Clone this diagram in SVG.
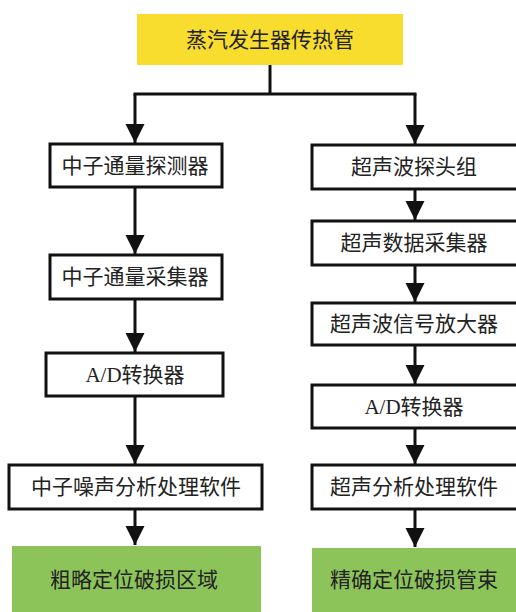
<svg xmlns="http://www.w3.org/2000/svg" width="516" height="612" viewBox="0 0 516 612">
<style>
text{font-family:"Liberation Serif","Noto Sans CJK SC",serif;font-size:21px;fill:#222;text-anchor:middle;dominant-baseline:central}
.box{fill:#fff;stroke:#111;stroke-width:3}
.yellow{fill:#F9DD2E}
.green{fill:#8CC45A}
.conn{fill:none;stroke:#111;stroke-width:3}
</style>
<defs>
<marker id="ah" markerUnits="userSpaceOnUse" viewBox="0 -10 20 20" refX="19" refY="0" markerWidth="20" markerHeight="20" orient="auto">
<path d="M0,-9.5 L19,0 L0,9.5 z" fill="#111"/>
</marker>
</defs>
<rect width="516" height="612" fill="#fff"/>
<g id="top"><rect class="yellow" x="137" y="14" width="266" height="51"/><text x="270" y="40">蒸汽发生器传热管</text></g>

<g id="L1"><rect class="box" x="50" y="144" width="172" height="43"/><text x="135" y="166">中子通量探测器</text></g>
<g id="L2"><rect class="box" x="50" y="255" width="172" height="44"/><text x="135" y="277">中子通量采集器</text></g>
<g id="L3"><rect class="box" x="46" y="353" width="177" height="43"/><text x="135" y="375">A/D转换器</text></g>
<g id="L4"><rect class="box" x="9" y="465" width="253" height="44"/><text x="136" y="487">中子噪声分析处理软件</text></g>
<g id="L5"><rect class="green" x="12" y="546" width="249" height="70"/><text x="134" y="580">粗略定位破损区域</text></g>

<g id="R1"><rect class="box" x="312" y="145" width="210" height="44"/><text x="414" y="167">超声波探头组</text></g>
<g id="R2"><rect class="box" x="312" y="221" width="210" height="44"/><text x="414" y="243">超声数据采集器</text></g>
<g id="R3"><rect class="box" x="312" y="303" width="210" height="42"/><text x="414" y="324">超声波信号放大器</text></g>
<g id="R4"><rect class="box" x="312" y="385" width="210" height="43"/><text x="414" y="407">A/D转换器</text></g>
<g id="R5"><rect class="box" x="312" y="465" width="210" height="44"/><text x="414" y="487">超声分析处理软件</text></g>
<g id="R6"><rect class="green" x="312" y="548" width="210" height="70"/><text x="414" y="580">精确定位破损管束</text></g>

<g id="connectors" class="conn">
<path d="M270,65 V94 M133.5,94 H416.5"/>
<path d="M135,94 V143" marker-end="url(#ah)"/>
<path d="M415,94 V144" marker-end="url(#ah)"/>
<path d="M135,187 V254" marker-end="url(#ah)"/>
<path d="M135,299 V352" marker-end="url(#ah)"/>
<path d="M135,396 V464" marker-end="url(#ah)"/>
<path d="M135,509 V545" marker-end="url(#ah)"/>
<path d="M415,189 V220" marker-end="url(#ah)"/>
<path d="M415,265 V302" marker-end="url(#ah)"/>
<path d="M415,345 V384" marker-end="url(#ah)"/>
<path d="M415,428 V464" marker-end="url(#ah)"/>
<path d="M415,509 V547" marker-end="url(#ah)"/>
</g>
</svg>
